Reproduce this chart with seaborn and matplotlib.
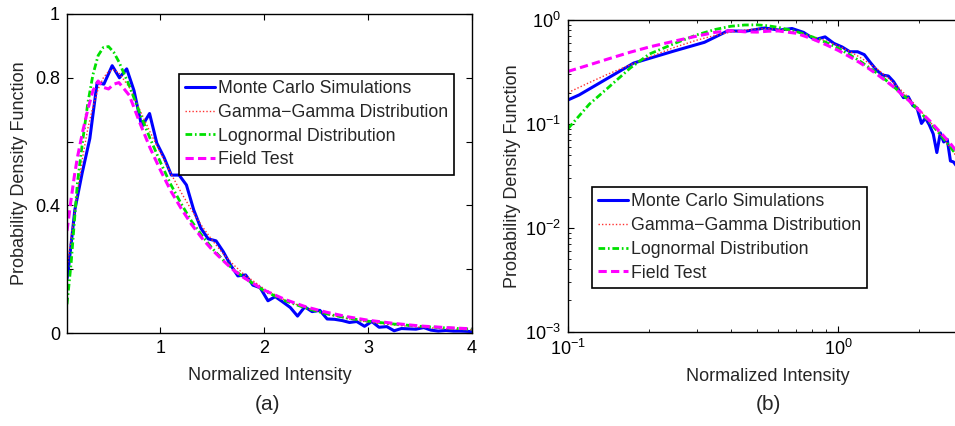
import numpy as np
import pandas as pd
import matplotlib
matplotlib.use("Agg")
import matplotlib.pyplot as plt
import seaborn as sns
from matplotlib.ticker import FixedLocator, LogLocator, NullFormatter

# ---------------- data ----------------
# Monte Carlo simulation (jagged histogram)
mc_x = [0.10, 0.11, 0.175, 0.245, 0.32, 0.39, 0.455, 0.535, 0.605, 0.675, 0.745,
        0.82, 0.895, 0.965, 1.035, 1.105, 1.18, 1.25, 1.32, 1.39, 1.46, 1.535,
        1.605, 1.675, 1.745, 1.82, 1.89, 1.96, 2.035, 2.105, 2.175, 2.25, 2.32,
        2.39, 2.46, 2.535, 2.605, 2.675, 2.75, 2.82, 2.89, 2.965, 3.035, 3.105,
        3.18, 3.25, 3.32, 3.39, 3.46, 3.535, 3.605, 3.675, 3.75, 3.82, 3.89,
        3.965, 4.0]
mc_y = [0.17, 0.19, 0.385, 0.50, 0.61, 0.785, 0.78, 0.838, 0.80, 0.828, 0.76,
        0.647, 0.688, 0.595, 0.55, 0.495, 0.495, 0.464, 0.386, 0.328, 0.295, 0.289,
        0.255, 0.213, 0.179, 0.182, 0.15, 0.142, 0.101, 0.114, 0.098, 0.08, 0.053,
        0.082, 0.067, 0.071, 0.044, 0.043, 0.039, 0.033, 0.036, 0.021, 0.036, 0.018,
        0.02, 0.007, 0.014, 0.013, 0.012, 0.017, 0.009, 0.006, 0.008, 0.006, 0.006,
        0.005, 0.004]

# smooth fitted / measured curves
fit_x = [0.10, 0.12, 0.14, 0.17, 0.20, 0.25, 0.30, 0.35, 0.40, 0.45, 0.50, 0.55,
         0.60, 0.70, 0.80, 0.90, 1.00, 1.10, 1.20, 1.30, 1.40, 1.50, 1.60, 1.70,
         1.80, 2.00, 2.20, 2.40, 2.60, 2.80, 3.00, 3.25, 3.50, 3.75, 4.00]
gamma_y = [0.20, 0.25, 0.30, 0.37, 0.44, 0.55, 0.64, 0.71, 0.765, 0.80, 0.82, 0.825,
           0.815, 0.77, 0.70, 0.63, 0.565, 0.50, 0.44, 0.385, 0.335, 0.29, 0.25, 0.215,
           0.185, 0.138, 0.103, 0.078, 0.059, 0.045, 0.034, 0.025, 0.018, 0.013, 0.010]
lognorm_y = [0.09, 0.155, 0.22, 0.345, 0.47, 0.60, 0.72, 0.81, 0.87, 0.895, 0.898, 0.88,
             0.85, 0.775, 0.69, 0.61, 0.535, 0.465, 0.405, 0.35, 0.305, 0.265, 0.23, 0.20,
             0.175, 0.132, 0.101, 0.078, 0.060, 0.047, 0.037, 0.028, 0.021, 0.016, 0.012]
field_y = [0.32, 0.37, 0.42, 0.49, 0.55, 0.63, 0.70, 0.76, 0.79, 0.77, 0.765, 0.78,
           0.785, 0.745, 0.66, 0.58, 0.51, 0.445, 0.39, 0.34, 0.297, 0.26, 0.228, 0.198,
           0.174, 0.134, 0.105, 0.082, 0.065, 0.051, 0.040, 0.030, 0.022, 0.017, 0.013]

labels = ["Monte Carlo Simulations", "Gamma\u2212Gamma Distribution",
          "Lognormal Distribution", "Field Test"]
left_yticks = [0, 0.2, 0.4, 0.6, 0.8, 1.0]
left_yticklabels = ["0", "", "0.4", "", "0.8", "1"]
left_xticks = [1, 2, 3, 4]

# ---------------- style ----------------
sns.set_style("ticks")
plt.rcParams['font.family'] = ['Liberation Sans', 'DejaVu Sans']
plt.rcParams['mathtext.default'] = 'regular'
FS = 13
LFS = 12.8

fig = plt.figure(figsize=(9.55, 4.26), dpi=100)
W, H = 955, 426
axL = fig.add_axes([67 / W, (H - 333) / H, (472 - 67) / W, (333 - 14) / H])
axR = fig.add_axes([568 / W, (H - 331.7) / H, (967 - 568) / W, (331.7 - 20) / H])

styles = [
    dict(color="#0000ff", lw=2.2, linestyle="-"),
    dict(color="#ff3030", lw=1.0, linestyle=(0, (1, 1.5))),
    dict(color="#00e000", lw=2.0, linestyle=(0, (2.4, 1.0, 0.6, 1.0))),
    dict(color="#ff00ff", lw=2.2, linestyle=(0, (2.7, 1.4))),
]
series = [(mc_x, mc_y), (fit_x, gamma_y), (fit_x, lognorm_y), (fit_x, field_y)]

for ax in (axL, axR):
    for (xv, yv), st, lab in zip(series, styles, labels):
        df = pd.DataFrame({"x": xv, "y": yv})
        sns.lineplot(data=df, x="x", y="y", ax=ax, label=lab, sort=True,
                     estimator=None, **st)
    ax.set_xlabel("Normalized Intensity", fontsize=FS)
    ax.set_ylabel("Probability Density Function", fontsize=FS)
    for sp in ax.spines.values():
        sp.set_linewidth(1.0)
        sp.set_color("black")
    ax.tick_params(which="both", direction="in", top=True, right=True,
                   labelsize=FS, colors="black")
    ax.tick_params(which="major", length=4, width=0.8, pad=5)
    ax.tick_params(which="minor", length=2, width=0.6)

# left panel
axL.set_xlim(0.1, 4)
axL.set_ylim(0, 1)
axL.xaxis.set_major_locator(FixedLocator(left_xticks))
axL.set_xticklabels([str(t) for t in left_xticks])
axL.yaxis.set_major_locator(FixedLocator(left_yticks))
axL.set_yticklabels(left_yticklabels)
axL.xaxis.labelpad = 7
axL.yaxis.labelpad = 5
legL = axL.legend(loc="upper left", bbox_to_anchor=(0.2765, 0.812), fontsize=LFS,
                  frameon=True, fancybox=False, framealpha=1, edgecolor="black",
                  handlelength=1.7, handletextpad=0.15, borderpad=0.35,
                  labelspacing=0.38, borderaxespad=0)
legL.get_frame().set_linewidth(1.2)

# right panel
axR.set_xscale("log")
axR.set_yscale("log")
axR.set_xlim(0.1, 3)
axR.set_ylim(1e-3, 1)
axR.xaxis.set_major_locator(FixedLocator([0.1, 1]))
axR.set_xticklabels(["$10^{-1}$", "$10^{0}$"])
axR.xaxis.set_minor_locator(LogLocator(base=10, subs=np.arange(2, 10)))
axR.xaxis.set_minor_formatter(NullFormatter())
axR.yaxis.set_major_locator(FixedLocator([1e-3, 1e-2, 1e-1, 1]))
axR.set_yticklabels(["$10^{-3}$", "$10^{-2}$", "$10^{-1}$", "$10^{0}$"])
axR.yaxis.set_minor_locator(LogLocator(base=10, subs=np.arange(2, 10)))
axR.yaxis.set_minor_formatter(NullFormatter())
axR.spines["right"].set_visible(False)
axR.xaxis.labelpad = 7
axR.yaxis.labelpad = 3
legR = axR.legend(loc="upper left", bbox_to_anchor=(0.060, 0.464), fontsize=LFS,
                  frameon=True, fancybox=False, framealpha=1, edgecolor="black",
                  handlelength=1.7, handletextpad=0.15, borderpad=0.35,
                  labelspacing=0.38, borderaxespad=0)
legR.get_frame().set_linewidth(1.2)

fig.text(268 / W, 1 - 405 / H, "(a)", ha="center", va="center", fontsize=FS + 2)
fig.text(768 / W, 1 - 405 / H, "(b)", ha="center", va="center", fontsize=FS + 2)

fig.savefig("out.png", dpi=100)
